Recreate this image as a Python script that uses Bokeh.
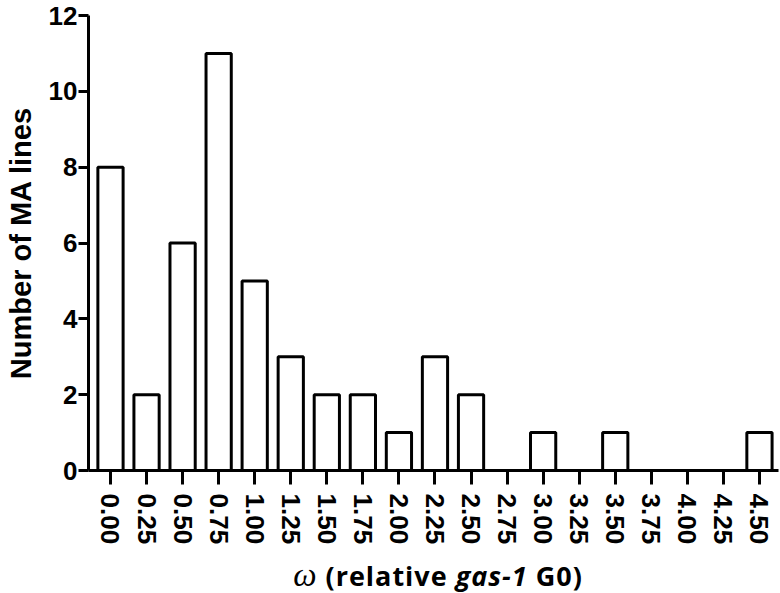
from bokeh.plotting import figure
from bokeh.models import ColumnDataSource, FixedTicker, Range1d, Div
from bokeh.layouts import column
from bokeh.embed import file_html
from bokeh.resources import INLINE

# ---- data ----
bins = [0.00, 0.25, 0.50, 0.75, 1.00, 1.25, 1.50, 1.75, 2.00, 2.25,
        2.50, 2.75, 3.00, 3.25, 3.50, 3.75, 4.00, 4.25, 4.50]
counts = [8, 2, 6, 11, 5, 3, 2, 2, 1, 3, 2, 0, 1, 0, 1, 0, 0, 0, 1]
x_tick_labels = ["%.2f" % b for b in bins]
y_ticks = [0, 2, 4, 6, 8, 10, 12]
y_title = "Number of MA lines"

source = ColumnDataSource(data=dict(x=bins, top=counts))

p = figure(width=780, height=556,
           x_range=Range1d(-0.1525, 4.632), y_range=Range1d(0, 12),
           output_backend="svg", toolbar_location=None,
           min_border_left=88, min_border_right=2,
           min_border_top=15, min_border_bottom=86)

p.vbar(x="x", top="top", width=0.175, source=source,
       fill_color="white", line_color="black", line_width=3)

p.outline_line_color = None
p.xgrid.grid_line_color = None
p.ygrid.grid_line_color = None
p.background_fill_color = "white"
p.border_fill_color = "white"

# x axis
xa = p.xaxis[0]
xa.ticker = FixedTicker(ticks=bins)
xa.major_label_overrides = {b: l for b, l in zip(bins, x_tick_labels)}
xa.major_label_orientation = "vertical"
xa.major_label_text_font = "Liberation Sans"
xa.major_label_text_font_style = "bold"
xa.major_label_text_font_size = "26px"
xa.major_label_text_color = "black"
xa.major_label_standoff = 9
xa.axis_line_width = 3
xa.axis_line_color = "black"
xa.major_tick_line_width = 3
xa.major_tick_line_color = "black"
xa.major_tick_out = 14
xa.major_tick_in = 0
xa.minor_tick_line_color = None

# y axis
ya = p.yaxis[0]
ya.ticker = FixedTicker(ticks=y_ticks)
ya.major_label_text_font = "Liberation Sans"
ya.major_label_text_font_style = "bold"
ya.major_label_text_font_size = "26px"
ya.major_label_text_color = "black"
ya.major_label_standoff = 1
ya.axis_line_width = 3
ya.axis_line_color = "black"
ya.major_tick_line_width = 3
ya.major_tick_line_color = "black"
ya.major_tick_out = 10
ya.major_tick_in = 0
ya.minor_tick_line_color = None
ya.axis_label = y_title
ya.axis_label_text_font = "Liberation Sans"
ya.axis_label_text_font_style = "bold"
ya.axis_label_text_font_size = "29px"
ya.axis_label_text_color = "black"
ya.axis_label_standoff = 9

# x axis title with mixed styles (HTML text below the plot)
title_html = ('<span style="font-family:\'Liberation Serif\';font-style:italic;'
              'font-weight:normal;font-size:33px">\u03c9</span> (relative '
              '<i>gas-1</i> G0)')
div = Div(text=title_html, width=780, height=37,
          styles={"font-family": "'Open Sans'", "font-weight": "bold",
                  "font-size": "27px", "color": "black",
                  "text-align": "center", "padding-left": "88px",
                  "padding-right": "2px", "box-sizing": "border-box",
                  "line-height": "28px", "padding-top": "0px",
                  "letter-spacing": "1px", "white-space": "nowrap"})

layout = column(p, div, spacing=0)
open("out.html", "w").write(file_html(layout, INLINE))
